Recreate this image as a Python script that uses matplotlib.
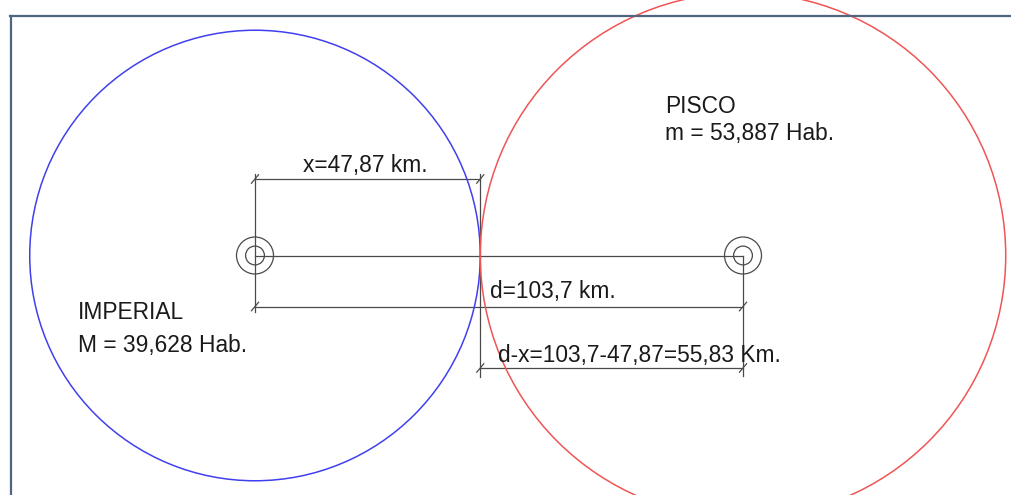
import matplotlib
matplotlib.use("Agg")
import matplotlib.pyplot as plt
from matplotlib.patches import Circle

plt.rcParams['font.family'] = ['Liberation Sans', 'DejaVu Sans']

# distances in km
d = 103.7
x = 47.87
d_minus_x = 55.83

cities = ["IMPERIAL", "PISCO"]
city_pos = [0.0, d]
city_mass = ["M = 39,628 Hab.", "m = 53,887 Hab."]
city_radius = [x, d_minus_x]
circle_colors = ["#4040ee", "#f05555"]

W, H = 1011, 495
k = 488 / d            # pixels per km
cx_px, cy_px = 255, 255.5

fig = plt.figure(figsize=(W / 100, H / 100), dpi=100)
ax = fig.add_axes([0, 0, 1, 1])
ax.set_xlim(-cx_px / k, (W - cx_px) / k)
ax.set_ylim(-(H - cy_px) / k, cy_px / k)
ax.axis('off')

# frame lines (top and left)
fig.add_artist(plt.Line2D([10 / W, 1], [1 - 15.5 / H] * 2, color='#50657f', lw=1.6))
fig.add_artist(plt.Line2D([11 / W] * 2, [0, 1 - 15.5 / H], color='#50657f', lw=1.6))

gray = '#4a4a4a'
lw = 0.9

# big circles
for pos, r, c in zip(city_pos, city_radius, circle_colors):
    ax.add_patch(Circle((pos, 0), r, fill=False, ec=c, lw=1.1, zorder=3))
    # city markers
    ax.add_patch(Circle((pos, 0), 3.93, fill=False, ec=gray, lw=lw, zorder=4))
    ax.add_patch(Circle((pos, 0), 2.0, fill=False, ec=gray, lw=lw, zorder=4))

# centre line
ax.plot([city_pos[0], city_pos[1]], [0, 0], color=gray, lw=lw)

# dimension line levels (km)
y_x = 16.26
y_d = -10.84
y_dx = -23.9
ext = 1.1

def slash(px, py):
    s = 0.75
    ax.plot([px - s, px + s], [py - s * 1.2, py + s * 1.2], color=gray, lw=lw)

# extension lines
ax.plot([0, 0], [y_x + ext, y_d - ext], color=gray, lw=lw)
ax.plot([x, x], [y_x + ext, y_dx - ext * 1.8], color=gray, lw=lw)
ax.plot([d, d], [0, y_dx - ext * 1.5], color=gray, lw=lw)

# dimension lines
for x0, x1, yy in [(0, x, y_x), (0, d, y_d), (x, d, y_dx)]:
    ax.plot([x0, x1], [yy, yy], color=gray, lw=lw)
    slash(x0, yy)
    slash(x1, yy)

fs = 16.4

def label(px, py, s):
    ax.text(px / W, 1 - py / H, s, transform=fig.transFigure, fontsize=fs,
            ha='left', va='baseline', color='#1a1a1a')

label(303, 172, "x=47,87 km.")
label(490, 298, "d=103,7 km.")
label(498, 362, "d-x=103,7-47,87=55,83 Km.")
label(665, 113, cities[1])
label(665, 140, city_mass[1])
label(78, 319, cities[0])
label(78, 352, city_mass[0])

fig.savefig("out.png", dpi=100, facecolor='white')
